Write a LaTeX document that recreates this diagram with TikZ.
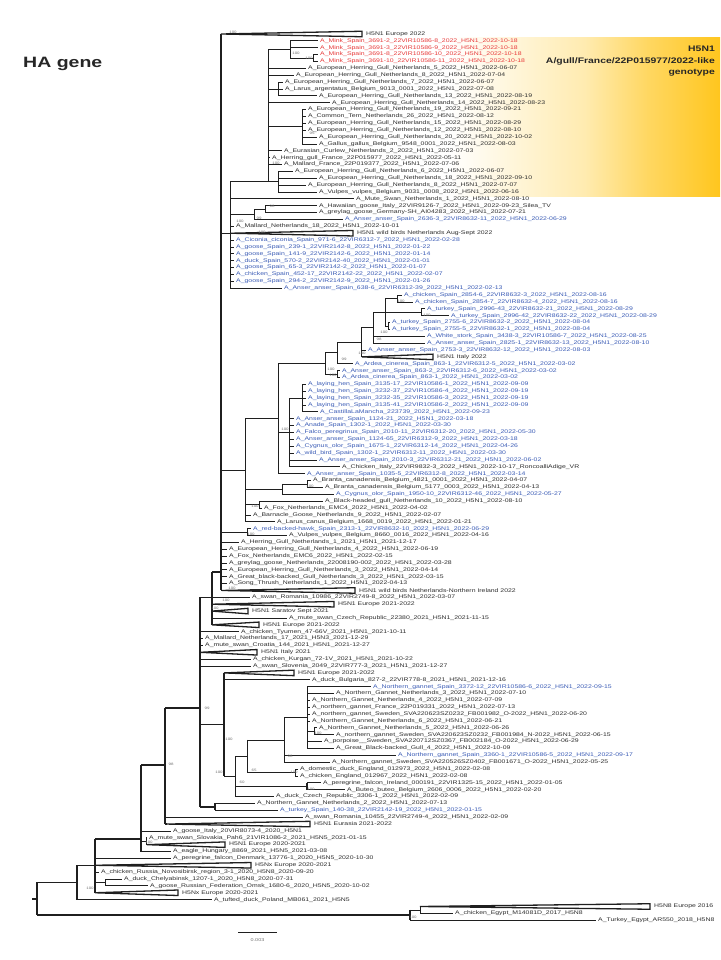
\documentclass[tikz,border=0pt]{standalone}
\usepackage{fontspec}
\setmainfont{Liberation Sans}
\newfontfamily\treefont[FakeStretch=1.3]{Liberation Sans}
\usetikzlibrary{calc}
\definecolor{tipblue}{RGB}{58,91,181}
\definecolor{tipred}{RGB}{232,58,58}
\definecolor{tipgrey}{RGB}{45,45,45}
\definecolor{gullgold}{RGB}{255,198,30}
\pgfdeclarehorizontalshading{gullfade}{100bp}{color(0bp)=(white); color(25bp)=(white); color(45bp)=(white); color(60bp)=(gullgold!35); color(67bp)=(gullgold!70); color(75bp)=(gullgold); color(100bp)=(gullgold)}

% leaf: [colour] name, parent, row, text x, text
\newcommand{\tip}[6][tipgrey]{%
  \node[tiplbl, text=#1] (#2) at ({#5-1.6},#4) {\detokenize{#6}};
  \draw[branch] (#3 |- #2.west) -- (#2.west);}
% collapsed clade: [stem style] name, parent, row, apex x, end x, text
\newcommand{\clade}[7][]{%
  \coordinate (#2a) at (#5,#4);
  \draw[branch,#1] (#3 |- #2a) -- (#2a);
  \draw[collapsed] (#2a) -- ({#6},{#4-0.4}) -- ({#6},{#4+0.4}) -- cycle;
  \node[tiplbl] (#2) at ({#6+2.4},#4) {#7};}
% inner node: [style] name, parent, x, top row, bottom row, stem row
\newcommand{\inode}[7][]{%
  \coordinate (#2) at (#4,#7);
  \draw[branch,#1] (#4,#5) -- (#4,#6);
  \draw[branch,#1] (#3 |- #2) -- (#2);}
\newcommand{\bsv}[4]{\node[bootlbl] (#1) at (#2,#3) {#4};}

\begin{document}
\begin{tikzpicture}[
    branch/.style={line width=0.8pt, color=black!88},
    thickbr/.style={line width=1.5pt},
    collapsed/.style={line width=1.3pt, color=black!88, fill=white, line join=miter},
    tiplbl/.style={anchor=west, inner xsep=1.6pt, inner ysep=0pt, text=tipgrey,
        font=\treefont\fontsize{5.3}{5.3}\selectfont},
    bootlbl/.style={inner sep=0pt, text=black!55, font=\treefont\fontsize{3.4}{3.4}\selectfont},
    headlbl/.style={align=right, anchor=east, inner sep=0pt, text=black!85,
        font=\treefont\bfseries\fontsize{8}{11.5}\selectfont}
]
\useasboundingbox (0pt,0pt) rectangle (720pt,-960pt);
\node[anchor=west, inner sep=0pt, font=\treefont\bfseries\fontsize{15}{15}\selectfont, text=black!85]
    (title) at (23pt,-64pt) {HA gene};

\begin{scope}[x=1pt, y=-6.87pt, yshift=-27.13pt]
\shade[shading=gullfade] (268,1.44) rectangle (720,24.6);
\node[headlbl] (genotype) at (715,5.0) {H5N1\\A/gull/France/22P015977/2022-like\\genotype};

\coordinate (root) at (37,126.9);
\coordinate (rootstub) at (32,126.9);
\draw[branch,thickbr] (37,124.5) -- (37,129.25);
\draw[branch,thickbr] (rootstub) -- (root);
\inode[thickbr]{u}{root}{77}{122}{127}{124.5}
\inode[thickbr]{v}{u}{95}{118.2}{126}{122}
\inode[thickbr]{w}{v}{141}{107.4}{120}{118.2}
\inode[thickbr]{k}{w}{165}{99.1}{116}{107.4}
\inode[thickbr]{p2}{k}{200}{83}{113.5}{99.1}
\inode[thickbr]{p1}{p2}{212}{79.3}{87}{83}
\inode[thickbr]{s}{p1}{221}{1}{82}{79.3}

% gull genotype
\clade[thickbr]{c1}{s}{1}{221}{362}{H5N1 Europe 2022}
\inode{g0}{s}{230}{22.5}{38}{30}
\inode{g1}{g0}{268}{3.25}{22.5}{22.5}
\inode{mk}{g1}{290}{2}{4.5}{3.25}
\inode{mkp}{mk}{313}{4}{5}{4.5}
\tip[tipred]{t2}{mk}{2}{320}{A_Mink_Spain_3691-2_22VIR10586-8_2022_H5N1_2022-10-18}
\tip[tipred]{t3}{mk}{3}{320}{A_Mink_Spain_3691-3_22VIR10586-9_2022_H5N1_2022-10-18}
\tip[tipred]{t4}{mkp}{4}{320}{A_Mink_Spain_3691-8_22VIR10586-10_2022_H5N1_2022-10-18}
\tip[tipred]{t5}{mkp}{5}{320}{A_Mink_Spain_3691-10_22VIR10586-11_2022_H5N1_2022-10-18}
\tip{t6}{g1}{6}{308}{A_European_Herring_Gull_Netherlands_5_2022_H5N1_2022-06-07}
\tip{t7}{g1}{7}{296}{A_European_Herring_Gull_Netherlands_8_2022_H5N1_2022-07-04}
\inode{na}{g1}{278}{8}{10}{9}
\tip{t8}{na}{8}{285}{A_European_Herring_Gull_Netherlands_7_2022_H5N1_2022-06-07}
\tip{t9}{na}{9}{285}{A_Larus_argentatus_Belgium_9013_0001_2022_H5N1_2022-07-08}
\tip{t10}{na}{10}{319}{A_European_Herring_Gull_Netherlands_13_2022_H5N1_2022-08-19}
\tip{t11}{g1}{11}{332}{A_European_Herring_Gull_Netherlands_14_2022_H5N1_2022-08-23}
\inode{nb}{g1}{302}{12}{17}{14.5}
\tip{t12}{nb}{12}{308}{A_European_Herring_Gull_Netherlands_19_2022_H5N1_2022-09-21}
\tip{t13}{nb}{13}{308}{A_Common_Tern_Netherlands_26_2022_H5N1_2022-08-12}
\tip{t14}{nb}{14}{308}{A_European_Herring_Gull_Netherlands_15_2022_H5N1_2022-08-29}
\tip{t15}{nb}{15}{308}{A_European_Herring_Gull_Netherlands_12_2022_H5N1_2022-08-10}
\tip{t16}{nb}{16}{319}{A_European_Herring_Gull_Netherlands_20_2022_H5N1_2022-10-02}
\tip{t17}{nb}{17}{319}{A_Gallus_gallus_Belgium_9548_0001_2022_H5N1_2022-08-03}
\tip{t18}{g1}{18}{284}{A_Eurasian_Curlew_Netherlands_2_2022_H5N1_2022-07-03}
\tip{t19}{g1}{19}{272}{A_Herring_gull_France_22P015977_2022_H5N1_2022-05-11}
\tip{t20}{g1}{20}{284}{A_Mallard_France_22P019377_2022_H5N1_2022-07-06}
\inode{nc}{g1}{278}{21}{24}{22.5}
\tip{t21}{nc}{21}{295}{A_European_Herring_Gull_Netherlands_6_2022_H5N1_2022-06-07}
\tip{t22}{nc}{22}{319}{A_European_Herring_Gull_Netherlands_18_2022_H5N1_2022-09-10}
\tip{t23}{nc}{23}{308}{A_European_Herring_Gull_Netherlands_8_2022_H5N1_2022-07-07}
\tip{t24}{nc}{24}{319}{A_Vulpes_vulpes_Belgium_9031_0008_2022_H5N1_2022-06-16}
\tip{t25}{g0}{25}{356}{A_Mute_Swan_Netherlands_1_2022_H5N1_2022-08-10}
\inode{nd}{g0}{254}{26.5}{28}{27.25}
\inode{ne}{nd}{265}{26}{27}{26.5}
\tip{t26}{ne}{26}{319}{A_Hawaiian_goose_Italy_22VIR9126-7_2022_H5N1_2022-09-23_Silea_TV}
\tip{t27}{ne}{27}{319}{A_greylag_goose_Germany-SH_AI04283_2022_H5N1_2022-07-21}
\tip[tipblue]{t28}{nd}{28}{345}{A_Anser_anser_Spain_2636-3_22VIR8632-11_2022_H5N1_2022-06-29}
\tip{t29}{g0}{29}{236}{A_Mallard_Netherlands_18_2022_H5N1_2022-10-01}
\clade{c30}{g0}{30}{231}{353}{H5N1 wild birds Netherlands Aug-Sept 2022}
\tip[tipblue]{t31}{g0}{31}{236}{A_Ciconia_ciconia_Spain_971-6_22VIR6312-7_2022_H5N1_2022-02-28}
\tip[tipblue]{t32}{g0}{32}{236}{A_goose_Spain_239-1_22VIR2142-8_2022_H5N1_2022-01-22}
\tip[tipblue]{t33}{g0}{33}{236}{A_goose_Spain_141-9_22VIR2142-6_2022_H5N1_2022-01-14}
\tip[tipblue]{t34}{g0}{34}{236}{A_duck_Spain_570-2_22VIR2142-40_2022_H5N1_2022-01-01}
\tip[tipblue]{t35}{g0}{35}{236}{A_goose_Spain_65-3_22VIR2142-2_2022_H5N1_2022-01-07}
\tip[tipblue]{t36}{g0}{36}{236}{A_chicken_Spain_452-17_22VIR2142-22_2022_H5N1_2022-02-07}
\tip[tipblue]{t37}{g0}{37}{236}{A_goose_Spain_294-2_22VIR2142-9_2022_H5N1_2022-01-26}
\tip[tipblue]{t38}{g0}{38}{284}{A_Anser_anser_Spain_638-6_22VIR6312-39_2022_H5N1_2022-02-13}

% Spanish 2022 clade
\inode{nh}{s}{245}{57}{72}{64.5}
\inode{t6n}{nh}{278}{49}{65}{57}
\inode{t5n}{t6n}{325}{47.4}{50.5}{49}
\inode{t4n}{t5n}{337}{45.9}{49}{47.4}
\inode{t3n}{t4n}{361}{43.75}{48}{45.9}
\inode{t2n}{t3n}{373}{41.5}{46}{43.75}
\inode{t1n}{t2n}{385}{39.5}{43.5}{41.5}
\inode{cp}{t1n}{397}{39}{40}{39.5}
\inode{tp}{t1n}{421}{41}{42}{41.5}
\inode{tq}{t1n}{388}{43}{44}{43.5}
\tip[tipblue]{t39}{cp}{39}{404}{A_chicken_Spain_2854-6_22VIR8632-3_2022_H5N1_2022-08-16}
\tip[tipblue]{t40}{cp}{40}{415}{A_chicken_Spain_2854-7_22VIR8632-4_2022_H5N1_2022-08-16}
\tip[tipblue]{t41}{tp}{41}{427}{A_turkey_Spain_2996-43_22VIR8632-21_2022_H5N1_2022-08-29}
\tip[tipblue]{t42}{tp}{42}{451}{A_turkey_Spain_2996-42_22VIR8632-22_2022_H5N1_2022-08-29}
\tip[tipblue]{t43}{tq}{43}{392}{A_turkey_Spain_2755-6_22VIR8632-2_2022_H5N1_2022-08-04}
\tip[tipblue]{t44}{tq}{44}{392}{A_turkey_Spain_2755-5_22VIR8632-1_2022_H5N1_2022-08-04}
\tip[tipblue]{t45}{t2n}{45}{427}{A_White_stork_Spain_3438-3_22VIR10586-7_2022_H5N1_2022-08-25}
\tip[tipblue]{t46}{t2n}{46}{427}{A_Anser_anser_Spain_2825-1_22VIR8632-13_2022_H5N1_2022-08-10}
\tip[tipblue]{t47}{t3n}{47}{368}{A_Anser_anser_Spain_2753-3_22VIR8632-12_2022_H5N1_2022-08-03}
\clade{c48}{t3n}{48}{362}{433}{H5N1 Italy 2022}
\tip[tipblue]{t49}{t4n}{49}{355}{A_Ardea_cinerea_Spain_863-1_22VIR6312-5_2022_H5N1_2022-03-02}
\inode{aa}{t5n}{337}{50}{51}{50.5}
\tip[tipblue]{t50}{aa}{50}{342}{A_Anser_anser_Spain_863-2_22VIR6312-6_2022_H5N1_2022-03-02}
\tip[tipblue]{t51}{aa}{51}{342}{A_Ardea_cinerea_Spain_863-1_2022_H5N1_2022-03-02}
\inode{nf}{t6n}{289}{54}{64}{59}
\inode{lh}{nf}{302}{52}{56}{54}
\tip[tipblue]{t52}{lh}{52}{308}{A_laying_hen_Spain_3135-17_22VIR10586-1_2022_H5N1_2022-09-09}
\tip[tipblue]{t53}{lh}{53}{308}{A_laying_hen_Spain_3232-37_22VIR10586-4_2022_H5N1_2022-09-19}
\tip[tipblue]{t54}{lh}{54}{308}{A_laying_hen_Spain_3232-35_22VIR10586-3_2022_H5N1_2022-09-19}
\tip[tipblue]{t55}{lh}{55}{308}{A_laying_hen_Spain_3135-41_22VIR10586-2_2022_H5N1_2022-09-09}
\tip[tipblue]{t56}{lh}{56}{320}{A_CastillaLaMancha_223739_2022_H5N1_2022-09-23}
\tip[tipblue]{t57}{nf}{57}{296}{A_Anser_anser_Spain_1124-21_2022_H5N1_2022-03-18}
\tip[tipblue]{t58}{nf}{58}{296}{A_Anade_Spain_1302-1_2022_H5N1_2022-03-30}
\tip[tipblue]{t59}{nf}{59}{296}{A_Falco_peregrinus_Spain_2010-11_22VIR6312-20_2022_H5N1_2022-05-30}
\tip[tipblue]{t60}{nf}{60}{296}{A_Anser_anser_Spain_1124-65_22VIR6312-9_2022_H5N1_2022-03-18}
\tip[tipblue]{t61}{nf}{61}{296}{A_Cygnus_olor_Spain_1675-1_22VIR6312-14_2022_H5N1_2022-04-26}
\tip[tipblue]{t62}{nf}{62}{296}{A_wild_bird_Spain_1302-1_22VIR6312-11_2022_H5N1_2022-03-30}
\tip[tipblue]{t63}{nf}{63}{319}{A_Anser_anser_Spain_2010-3_22VIR6312-21_2022_H5N1_2022-06-02}
\tip{t64}{nf}{64}{342}{A_Chicken_Italy_22VIR9832-3_2022_H5N1_2022-10-17_RoncoalliAdige_VR}
\tip[tipblue]{t65}{t6n}{65}{307}{A_Anser_anser_Spain_1035-5_22VIR6312-8_2022_H5N1_2022-03-14}
\inode{br}{nh}{282}{66.5}{68}{67.25}
\inode{bp}{br}{307}{66}{67}{66.5}
\tip{t66}{bp}{66}{313}{A_Branta_canadensis_Belgium_4821_0001_2022_H5N1_2022-04-07}
\tip{t67}{bp}{67}{325}{A_Branta_canadensis_Belgium_5177_0003_2022_H5N1_2022-04-13}
\tip[tipblue]{t68}{br}{68}{336}{A_Cygnus_olor_Spain_1950-10_22VIR6312-46_2022_H5N1_2022-05-27}
\inode{nj}{nh}{259}{69}{70}{69.5}
\tip{t69}{nj}{69}{325}{A_Black-headed_gull_Netherlands_10_2022_H5N1_2022-08-10}
\tip{t70}{nj}{70}{264}{A_Fox_Netherlands_EMC4_2022_H5N1_2022-04-02}
\tip{t71}{nh}{71}{253}{A_Barnacle_Goose_Netherlands_9_2022_H5N1_2022-02-07}
\tip{t72}{nh}{72}{277}{A_Larus_canus_Belgium_1668_0019_2022_H5N1_2022-01-21}
\inode{rv}{s}{247}{73}{74}{73.5}
\tip[tipblue]{t73}{rv}{73}{253}{A_red-backed-hawk_Spain_2313-1_22VIR8632-10_2022_H5N1_2022-06-29}
\tip{t74}{rv}{74}{289}{A_Vulpes_vulpes_Belgium_8660_0016_2022_H5N1_2022-04-16}
\tip{t75}{s}{75}{241}{A_Herring_Gull_Netherlands_1_2021_H5N1_2021-12-17}
\tip{t76}{s}{76}{229}{A_European_Herring_Gull_Netherlands_4_2022_H5N1_2022-06-19}
\tip{t77}{s}{77}{229}{A_Fox_Netherlands_EMC6_2022_H5N1_2022-02-15}
\tip{t78}{s}{78}{229}{A_greylag_goose_Netherlands_22008190-002_2022_H5N1_2022-03-28}
\tip{t79}{s}{79}{229}{A_European_Herring_Gull_Netherlands_3_2022_H5N1_2022-04-14}
\tip{t80}{s}{80}{229}{A_Great_black-backed_Gull_Netherlands_3_2022_H5N1_2022-03-15}
\tip{t81}{s}{81}{229}{A_Song_Thrush_Netherlands_1_2022_H5N1_2022-04-13}
\clade{c82}{s}{82}{222}{355}{H5N1 wild birds Netherlands-Northern Ireland 2022}

% 2021-2022 backbone
\tip{t83}{p1}{83}{252}{A_swan_Romania_10986_22VIR2749-8_2022_H5N1_2022-03-07}
\clade{c84}{p1}{84}{212}{334}{H5N1 Europe 2021-2022}
\clade{c85}{p1}{85}{212}{248}{H5N1 Saratov Sept 2021}
\tip{t86}{p1}{86}{289}{A_mute_swan_Czech_Republic_22380_2021_H5N1_2021-11-15}
\clade{c87}{p1}{87}{212}{259}{H5N1 Europe 2021-2022}
\tip{t88}{p2}{88}{241}{A_chicken_Tyumen_47-66V_2021_H5N1_2021-10-11}
\tip{t89}{p2}{89}{205}{A_Mallard_Netherlands_17_2021_H5N3_2021-12-29}
\tip{t90}{p2}{90}{205}{A_mute_swan_Croatia_144_2021_H5N1_2021-12-27}
\clade{c91}{p2}{91}{200}{257}{H5N1 Italy 2021}
\tip{t92}{p2}{92}{253}{A_chicken_Kurgan_72-1V_2021_H5N1_2021-10-22}
\tip{t93}{p2}{93}{253}{A_swan_Slovenia_2049_22VIR777-3_2021_H5N1_2021-12-27}

% gannet clade
\inode[thickbr]{q}{p2}{224}{94}{109}{101.5}
\clade[thickbr]{c94}{q}{94}{224}{294}{H5N1 Europe 2021-2022}
\tip{t95}{q}{95}{312}{A_duck_Bulgaria_827-2_22VIR778-8_2021_H5N1_2021-12-16}
\inode{n60}{q}{235}{106.1}{112}{109}
\inode{n65}{n60}{247}{103.75}{108.5}{106.1}
\inode{n98}{n65}{284}{100.5}{107}{103.75}
\inode{ng}{n98}{307}{96}{105}{100.5}
\tip[tipblue]{t96}{ng}{96}{373}{A_Northern_gannet_Spain_3372-12_22VIR10586-6_2022_H5N1_2022-09-15}
\tip{t97}{ng}{97}{336}{A_Northern_Gannet_Netherlands_3_2022_H5N1_2022-07-10}
\tip{t98}{ng}{98}{312}{A_Northern_Gannet_Netherlands_4_2022_H5N1_2022-07-09}
\tip{t99}{ng}{99}{312}{A_northern_gannet_France_22P019331_2022_H5N1_2022-07-13}
\tip{t100}{ng}{100}{312}{A_northern_gannet_Sweden_SVA220623SZ0232_FB001982_O-2022_H5N1_2022-06-20}
\tip{t101}{ng}{101}{312}{A_Northern_Gannet_Netherlands_6_2022_H5N1_2022-06-21}
\inode{ns}{ng}{314}{102}{103}{102.5}
\tip{t102}{ns}{102}{319}{A_Northern_Gannet_Netherlands_5_2022_H5N1_2022-06-26}
\tip{t103}{ns}{103}{336}{A_northern_gannet_Sweden_SVA220623SZ0232_FB001984_N-2022_H5N1_2022-06-15}
\tip{t104}{ng}{104}{324}{A_porpoise__Sweden_SVA220712SZ0367_FB002184_O-2022_H5N1_2022-06-29}
\tip{t105}{ng}{105}{336}{A_Great_Black-backed_Gull_4_2022_H5N1_2022-10-09}
\tip[tipblue]{t106}{n98}{106}{398}{A_Northern_gannet_Spain_3360-1_22VIR10586-5_2022_H5N1_2022-09-17}
\tip{t107}{n98}{107}{332}{A_Northern_gannet_Sweden_SVA220526SZ0402_FB001671_O-2022_H5N1_2022-05-25}
\inode{dc}{n65}{295}{108}{109}{108.5}
\tip{t108}{dc}{108}{300}{A_domestic_duck_England_012973_2022_H5N1_2022-02-08}
\tip{t109}{dc}{109}{300}{A_chicken_England_012967_2022_H5N1_2022-02-08}
\inode[thickbr]{pb}{n60}{307}{110}{111}{110.5}
\tip{t110}{pb}{110}{323}{A_peregrine_falcon_Ireland_000191_22VIR1325-15_2022_H5N1_2022-01-05}
\tip{t111}{pb}{111}{347}{A_Buteo_buteo_Belgium_2606_0006_2022_H5N1_2022-02-20}
\tip{t112}{n60}{112}{276}{A_duck_Czech_Republic_3306-1_2022_H5N1_2022-02-09}
\inode[thickbr]{nt}{p2}{215}{113}{114}{113.5}
\tip{t113}{nt}{113}{257}{A_Northern_Gannet_Netherlands_2_2022_H5N1_2022-07-13}
\tip[tipblue]{t114}{nt}{114}{280}{A_turkey_Spain_140-38_22VIR2142-19_2022_H5N1_2022-01-15}
\tip{t115}{k}{115}{305}{A_swan_Romania_10455_22VIR2749-4_2022_H5N1_2022-02-09}
\clade[thickbr]{c116}{k}{116}{167}{310}{H5N1 Eurasia 2021-2022}

% older lineages
\tip{t117}{w}{117}{173}{A_goose_Italy_20VIR8073-4_2020_H5N1}
\inode{sl}{w}{146}{118}{119}{118.5}
\tip{t118}{sl}{118}{149}{A_mute_swan_Slovakia_Pah6_21VIR1086-2_2021_H5N5_2021-01-15}
\clade{c119}{sl}{119}{147}{225}{H5N1 Europe 2020-2021}
\tip{t120}{w}{120}{173}{A_eagle_Hungary_8869_2021_H5N5_2021-03-08}
\tip{t121}{v}{121}{173}{A_peregrine_falcon_Denmark_13776-1_2020_H5N5_2020-10-30}
\clade[thickbr]{c122}{v}{122}{95}{251}{H5Nx Europe 2020-2021}
\tip{t123}{v}{123}{101}{A_chicken_Russia_Novosibirsk_region_3-1_2020_H5N8_2020-09-20}
\inode{co}{v}{105}{124}{125}{124.5}
\tip{t124}{co}{124}{124}{A_duck_Chelyabinsk_1207-1_2020_H5N8_2020-07-31}
\tip{t125}{co}{125}{150}{A_goose_Russian_Federation_Omsk_1680-6_2020_H5N5_2020-10-02}
\clade{c126}{v}{126}{95}{178}{H5Nx Europe 2020-2021}
\tip{t127}{u}{127}{214}{A_tufted_duck_Poland_MB061_2021_H5N5}
\inode[thickbr]{nl}{root}{410}{128.5}{130}{129.25}
\inode{lb}{nl}{420}{128}{129}{128.5}
\clade{c128}{lb}{128}{420}{650}{H5N8 Europe 2016}
\tip{t129}{lb}{129}{455}{A_chicken_Egypt_M14081D_2017_H5N8}
\tip{t130}{nl}{130}{598}{A_Turkey_Egypt_AR550_2018_H5N8}

% support values
\bsv{b1}{233}{0.75}{100}
\bsv{b2}{296}{3.8}{100}
\bsv{b3}{309}{4.5}{100}
\bsv{b4}{312}{15.5}{95}
\bsv{b5}{276}{19.8}{100}
\bsv{b6}{272}{26.1}{98}
\bsv{b7}{259}{27.8}{99}
\bsv{b8}{240}{28.3}{100}
\bsv{b9}{262}{29.9}{100}
\bsv{b10}{401}{39.9}{100}
\bsv{b11}{427}{41.9}{100}
\bsv{b12}{384}{44.4}{100}
\bsv{b13}{379}{45.5}{98}
\bsv{b14}{362}{47.55}{100}
\bsv{b15}{344}{48.3}{99}
\bsv{b16}{331}{49.8}{100}
\bsv{b17}{333}{50.75}{100}
\bsv{b18}{285}{58.6}{100}
\bsv{b19}{310}{66.8}{100}
\bsv{b20}{255}{69.75}{100}
\bsv{b21}{251}{73.9}{100}
\bsv{b22}{232}{81.7}{100}
\bsv{b23}{226}{83.5}{100}
\bsv{b24}{215}{84.6}{100}
\bsv{b25}{207}{99.1}{99}
\bsv{b26}{229}{103.6}{100}
\bsv{b27}{318}{102.8}{100}
\bsv{b28}{290}{106.2}{98}
\bsv{b29}{254}{108.2}{65}
\bsv{b30}{294}{108.5}{100}
\bsv{b31}{219}{108.4}{100}
\bsv{b32}{242}{109.9}{60}
\bsv{b33}{311}{110.9}{100}
\bsv{b34}{171}{107.3}{98}
\bsv{b35}{149}{118.7}{100}
\bsv{b36}{90}{125.3}{100}
\bsv{b37}{413}{129.6}{100}

% scale
\coordinate (sbl) at (238,131.7);
\coordinate (sbr) at (277,131.7);
\draw[branch] (sbl) -- (sbr);
\node[bootlbl, font=\treefont\fontsize{4.2}{4.2}\selectfont] (sblbl) at (257.5,132.9) {0.003};
\end{scope}
\end{tikzpicture}
\end{document}
